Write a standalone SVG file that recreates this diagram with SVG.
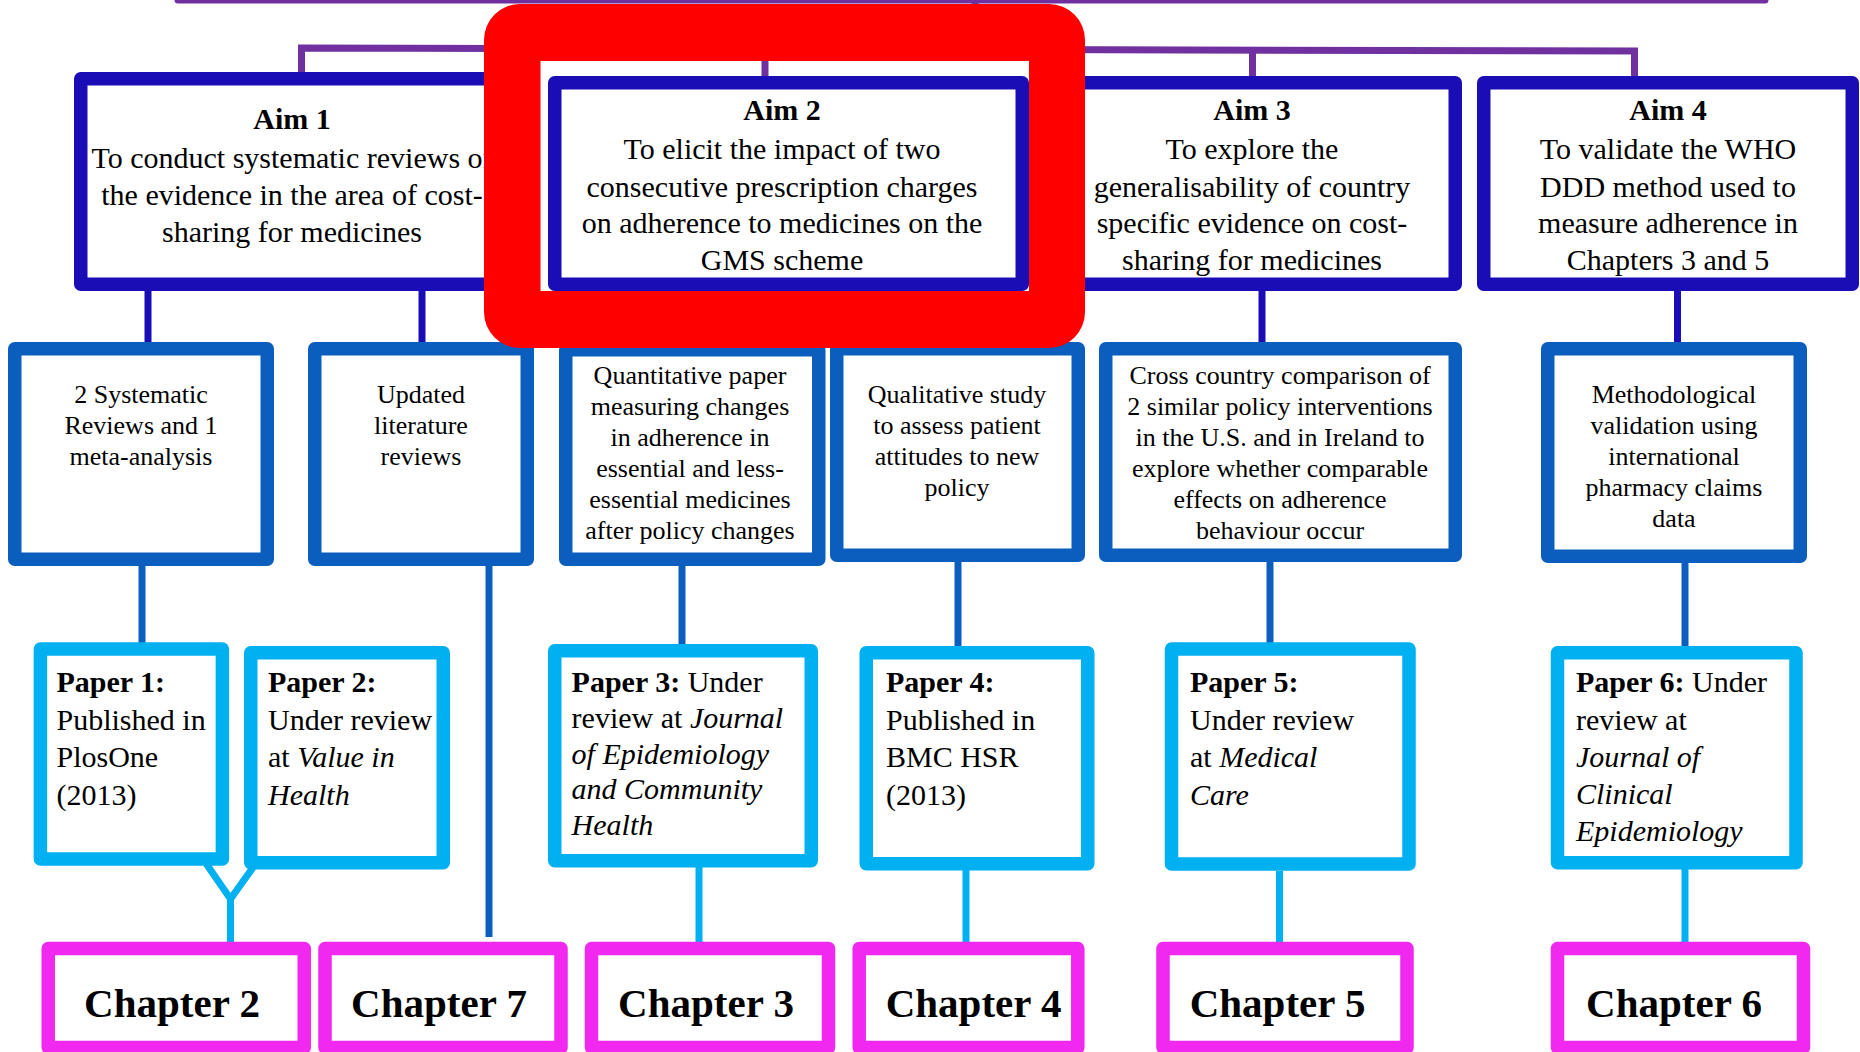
<svg xmlns="http://www.w3.org/2000/svg" width="1860" height="1052" viewBox="0 0 1860 1052">
<style>
text{font-family:"Liberation Serif","Times New Roman",serif;fill:#000}
.aim{fill:#fff;stroke:#1A0DB6;stroke-width:13.5;stroke-linejoin:round}
.mid{fill:#fff;stroke:#0B5EBE;stroke-width:13.5;stroke-linejoin:round}
.pap{fill:#fff;stroke:#00B0F0;stroke-width:13.5;stroke-linejoin:round}
.chp{fill:#fff;stroke:#F028F0;stroke-width:13.5;stroke-linejoin:round}
.t30{font-size:30px;text-anchor:middle}
.t26{font-size:26px;text-anchor:middle}
.p30{font-size:30px}
.ch{font-size:41px;font-weight:bold;text-anchor:middle}
.b{font-weight:bold}
.i{font-style:italic}
.cp{fill:none;stroke:#7030A0;stroke-width:7}
.cd{fill:none;stroke:#1A0DB6;stroke-width:7}
.cm{fill:none;stroke:#0B5EBE;stroke-width:7}
.cl{fill:none;stroke:#00B0F0;stroke-width:7}
</style>
<rect width="1860" height="1052" fill="#fff"/>
<g id="connectors">
<path class="cp" d="M178,0 H1765" stroke-linecap="round"/>
<path class="cp" d="M301.5,72 V48 L1634.5,51 V76"/>
<path class="cp" d="M975,0 V49"/>
<path class="cp" d="M765,49 V76"/>
<path class="cp" d="M1252.5,50 V76"/>
<path class="cd" d="M148,291 V343"/>
<path class="cd" d="M422,291 V343"/>
<path class="cd" d="M1262,291 V343"/>
<path class="cd" d="M1677.5,291 V343"/>
<path class="cm" d="M142,566 V643"/>
<path class="cm" d="M489,566 V937"/>
<path class="cm" d="M682,566 V645"/>
<path class="cm" d="M958,562 V647"/>
<path class="cm" d="M1270,562 V643"/>
<path class="cm" d="M1685,563 V647"/>
<path class="cl" d="M205,862 L230.5,899 L254,866"/>
<path class="cl" d="M230.5,899 V942"/>
<path class="cl" d="M699,867 V942"/>
<path class="cl" d="M966,870 V942"/>
<path class="cl" d="M1279.5,871 V942"/>
<path class="cl" d="M1685,856 V942"/>
</g>
<g id="aim1">
<rect class="aim" x="80.75" y="78.75" width="422.5" height="205.5"/>
<text class="t30 b" x="292" y="129.3">Aim 1</text>
<text class="t30" x="292" y="168.3">To conduct systematic reviews of</text>
<text class="t30" x="292" y="205">the evidence in the area of cost-</text>
<text class="t30" x="292" y="241.7">sharing for medicines</text>
</g>
<g id="aim2">
<rect class="aim" x="554.75" y="82.75" width="467.5" height="201.5"/>
<text class="t30 b" x="782" y="120">Aim 2</text>
<text class="t30" x="782" y="159.3">To elicit the impact of two</text>
<text class="t30" x="782" y="196.7">consecutive prescription charges</text>
<text class="t30" x="782" y="233.3">on adherence to medicines on the</text>
<text class="t30" x="782" y="270">GMS scheme</text>
</g>
<g id="aim3">
<rect class="aim" x="1048.75" y="82.75" width="406.5" height="201.5"/>
<text class="t30 b" x="1252" y="120">Aim 3</text>
<text class="t30" x="1252" y="159.3">To explore the</text>
<text class="t30" x="1252" y="196.7">generalisability of country</text>
<text class="t30" x="1252" y="233.3">specific evidence on cost-</text>
<text class="t30" x="1252" y="270">sharing for medicines</text>
</g>
<g id="aim4">
<rect class="aim" x="1483.75" y="82.75" width="368.5" height="201.5"/>
<text class="t30 b" x="1668" y="120">Aim 4</text>
<text class="t30" x="1668" y="159.3">To validate the WHO</text>
<text class="t30" x="1668" y="196.7">DDD method used to</text>
<text class="t30" x="1668" y="233.3">measure adherence in</text>
<text class="t30" x="1668" y="270">Chapters 3 and 5</text>
</g>
<g id="systematic-reviews">
<rect class="mid" x="14.75" y="348.75" width="252.5" height="210.5"/>
<text class="t26" x="141" y="403">2 Systematic</text>
<text class="t26" x="141" y="434">Reviews and 1</text>
<text class="t26" x="141" y="465">meta-analysis</text>
</g>
<g id="updated-reviews">
<rect class="mid" x="314.75" y="348.75" width="212.5" height="210.5"/>
<text class="t26" x="421" y="403">Updated</text>
<text class="t26" x="421" y="434">literature</text>
<text class="t26" x="421" y="465">reviews</text>
</g>
<g id="quantitative-paper">
<rect class="mid" x="565.75" y="349.75" width="253" height="209.5"/>
<text class="t26" x="690" y="384.3">Quantitative paper</text>
<text class="t26" x="690" y="415.3">measuring changes</text>
<text class="t26" x="690" y="446.3">in adherence in</text>
<text class="t26" x="690" y="477.3">essential and less-</text>
<text class="t26" x="690" y="508.3">essential medicines</text>
<text class="t26" x="690" y="539.3">after policy changes</text>
</g>
<g id="qualitative-study">
<rect class="mid" x="836.75" y="348.75" width="241.5" height="206.5"/>
<text class="t26" x="957" y="402.7">Qualitative study</text>
<text class="t26" x="957" y="433.7">to assess patient</text>
<text class="t26" x="957" y="464.7">attitudes to new</text>
<text class="t26" x="957" y="495.7">policy</text>
</g>
<g id="cross-country">
<rect class="mid" x="1105.75" y="348.75" width="349.5" height="206.5"/>
<text class="t26" x="1280" y="384">Cross country comparison of</text>
<text class="t26" x="1280" y="415">2 similar policy interventions</text>
<text class="t26" x="1280" y="446">in the U.S. and in Ireland to</text>
<text class="t26" x="1280" y="477">explore whether comparable</text>
<text class="t26" x="1280" y="508">effects on adherence</text>
<text class="t26" x="1280" y="539">behaviour occur</text>
</g>
<g id="methodological">
<rect class="mid" x="1547.75" y="348.75" width="252.5" height="207.5"/>
<text class="t26" x="1674" y="402.7">Methodological</text>
<text class="t26" x="1674" y="433.7">validation using</text>
<text class="t26" x="1674" y="464.7">international</text>
<text class="t26" x="1674" y="495.7">pharmacy claims</text>
<text class="t26" x="1674" y="526.7">data</text>
</g>
<g id="paper1">
<rect class="pap" x="40.4" y="649" width="182" height="210"/>
<text class="p30 b" x="56.5" y="692">Paper 1:</text>
<text class="p30" x="56.5" y="729.5">Published in</text>
<text class="p30" x="56.5" y="767">PlosOne</text>
<text class="p30" x="56.5" y="804.5">(2013)</text>
</g>
<g id="paper2">
<rect class="pap" x="250.75" y="652.75" width="192.5" height="210"/>
<text class="p30 b" x="268" y="692">Paper 2:</text>
<text class="p30" x="268" y="729.5">Under review</text>
<text class="p30" x="268" y="767">at <tspan class="i">Value in</tspan></text>
<text class="p30 i" x="268" y="804.5">Health</text>
</g>
<g id="paper3">
<rect class="pap" x="554.75" y="650.75" width="256.5" height="210"/>
<text class="p30" x="571.6" y="692"><tspan class="b">Paper 3:</tspan> Under</text>
<text class="p30" x="571.6" y="727.5">review at <tspan class="i">Journal</tspan></text>
<text class="p30 i" x="571.6" y="763.5">of Epidemiology</text>
<text class="p30 i" x="571.6" y="799">and Community</text>
<text class="p30 i" x="571.6" y="834.5">Health</text>
</g>
<g id="paper4">
<rect class="pap" x="866.25" y="652.75" width="221.5" height="211"/>
<text class="p30 b" x="886" y="692">Paper 4:</text>
<text class="p30" x="886" y="729.5">Published in</text>
<text class="p30" x="886" y="767">BMC HSR</text>
<text class="p30" x="886" y="804.5">(2013)</text>
</g>
<g id="paper5">
<rect class="pap" x="1171.5" y="649" width="237.5" height="215"/>
<text class="p30 b" x="1190" y="692">Paper 5:</text>
<text class="p30" x="1190" y="729.5">Under review</text>
<text class="p30" x="1190" y="767">at <tspan class="i">Medical</tspan></text>
<text class="p30 i" x="1190" y="804.5">Care</text>
</g>
<g id="paper6">
<rect class="pap" x="1557.5" y="652.75" width="238.5" height="210"/>
<text class="p30" x="1576" y="692"><tspan class="b">Paper 6:</tspan> Under</text>
<text class="p30" x="1576" y="729.5">review at</text>
<text class="p30 i" x="1576" y="767">Journal of</text>
<text class="p30 i" x="1576" y="804">Clinical</text>
<text class="p30 i" x="1576" y="840.7">Epidemiology</text>
</g>
<g id="chapter2">
<rect class="chp" x="48.25" y="948.5" width="256" height="99"/>
<text class="ch" x="172" y="1017">Chapter 2</text>
</g>
<g id="chapter7">
<rect class="chp" x="325" y="948.5" width="236" height="99"/>
<text class="ch" x="439" y="1017">Chapter 7</text>
</g>
<g id="chapter3">
<rect class="chp" x="591.5" y="948.5" width="237" height="99"/>
<text class="ch" x="706" y="1017">Chapter 3</text>
</g>
<g id="chapter4">
<rect class="chp" x="859.2" y="948.5" width="218.6" height="99"/>
<text class="ch" x="973.6" y="1017">Chapter 4</text>
</g>
<g id="chapter5">
<rect class="chp" x="1163" y="948.5" width="244" height="99"/>
<text class="ch" x="1277.6" y="1017">Chapter 5</text>
</g>
<g id="chapter6">
<rect class="chp" x="1557.5" y="948.5" width="246" height="99"/>
<text class="ch" x="1674" y="1017">Chapter 6</text>
</g>
<g id="highlight">
<path fill="#FF0000" fill-rule="evenodd" d="M520,4 H1049 A36,36 0 0 1 1085,40 V312 A36,36 0 0 1 1049,348 H520 A36,36 0 0 1 484,312 V40 A36,36 0 0 1 520,4 Z M540.5,61 V291 H1029 V61 Z"/>
</g>
</svg>
